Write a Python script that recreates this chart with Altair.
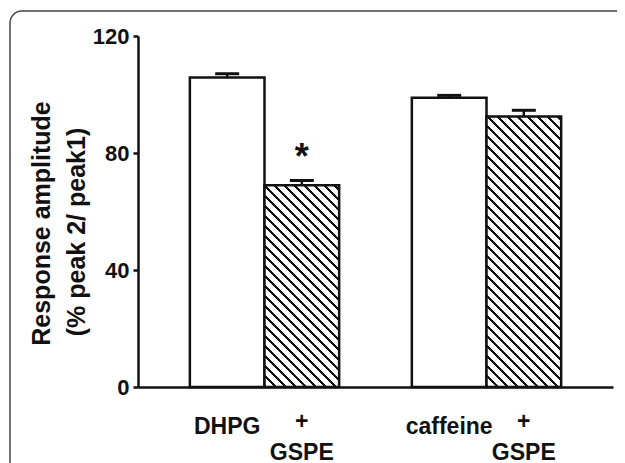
import altair as alt
import pandas as pd

# ---- data ----
conditions = ["DHPG", "DHPG", "caffeine", "caffeine"]
treatments = ["control", "GSPE", "control", "GSPE"]
means = [105.8, 69.0, 98.9, 92.5]
sems = [1.3, 1.6, 0.8, 2.1]
bar_labels = ["DHPG", "+\nGSPE", "caffeine", "+\nGSPE"]
stars = ["", "*", "", ""]
y_ticks = [0, 40, 80, 120]
y_title = ["Response amplitude", "(% peak 2/ peak1)"]

df = pd.DataFrame({
    "cond": conditions,
    "treat": treatments,
    "mean": means,
    "sem": sems,
    "label": bar_labels,
    "star": stars,
})
df["top"] = df["mean"] + df["sem"]

W, H = 475, 351
YMAX = 120
P_IN, P_OUT = 0.3275, 0.2336
INK = "#111111"
FONT = "Liberation Sans"

step = W / (2 - P_IN + 2 * P_OUT)
bar_w = step * (1 - P_IN) / 2


def hatch(value, spacing=10.0, thick=2.6):
    """Diagonal '\\' hatching as a hard-stop linear gradient (bbox units)."""
    w = bar_w
    h = value * H / YMAX
    L = w + h
    s = L / (w * w + h * h)
    stops = []
    k = 0.0
    while k < L:
        a = k / L
        b = min((k + thick) / L, 1.0)
        stops += [
            {"offset": a, "color": "white"},
            {"offset": a, "color": INK},
            {"offset": b, "color": INK},
            {"offset": b, "color": "white"},
        ]
        k += spacing
    stops.append({"offset": 1.0, "color": "white"})
    return {"gradient": "linear", "x1": 0, "y1": 1,
            "x2": w * s, "y2": 1 - h * s, "stops": stops}


x_enc = alt.X("cond:N",
              scale=alt.Scale(domain=["DHPG", "caffeine"],
                              paddingInner=P_IN, paddingOuter=P_OUT),
              axis=alt.Axis(labels=False, ticks=False, title=None,
                            domainWidth=2.5, domainColor=INK))
xo_enc = alt.XOffset("treat:N",
                     scale=alt.Scale(domain=["control", "GSPE"],
                                     paddingInner=0, paddingOuter=0))
y_scale = alt.Scale(domain=[0, YMAX], nice=False, zero=True)
y_axis = alt.Axis(values=y_ticks, title=y_title[0], grid=False,
                  labelFontSize=22, labelFontWeight="bold",
                  labelColor=INK, labelPadding=4,
                  tickSize=5, tickWidth=2.5, tickColor=INK,
                  domainWidth=2.5, domainColor=INK,
                  titleFontSize=25, titleFontWeight="bold",
                  titleColor=INK, titleAngle=270,
                  titleBaseline="alphabetic", titleAlign="center",
                  titleX=-89, titleY=187)


def Y(field):
    return alt.Y(field, scale=y_scale, axis=y_axis)


base = alt.Chart(df).encode(x=x_enc, xOffset=xo_enc)

frame = alt.Chart(alt.Data(values=[{"f": 1}])).mark_rect(
    fill="transparent", stroke="#444444", strokeWidth=1.5, cornerRadius=12
).encode(x=alt.value(-128), y=alt.value(-25),
         x2=alt.value(W + 60), y2=alt.value(H + 150))

white_bars = base.transform_filter("datum.treat == 'control'").mark_bar(
    fill="white", stroke=INK, strokeWidth=2.5
).encode(y=Y("mean:Q"))

hatched = []
for c in ["DHPG", "caffeine"]:
    v = df[(df.cond == c) & (df.treat == "GSPE")]["mean"].iloc[0]
    hatched.append(
        base.transform_filter(f"datum.treat == 'GSPE' && datum.cond == '{c}'")
        .mark_bar(fill=hatch(v), stroke=INK, strokeWidth=2.5)
        .encode(y=Y("mean:Q"))
    )

err = base.mark_rule(color=INK, strokeWidth=2.5).encode(
    y=Y("mean:Q"), y2="top:Q")
caps = base.mark_tick(color=INK, size=24, thickness=3, opacity=1).encode(
    y=Y("top:Q"))
star = base.transform_filter("datum.star != ''").mark_text(
    font=FONT, fontSize=36, fontWeight="bold", color=INK,
    baseline="alphabetic", dy=-11
).encode(y=Y("top:Q"), text="star:N")

lab1 = base.transform_filter("datum.treat == 'control'").mark_text(
    font=FONT, fontSize=23, fontWeight="bold", color=INK,
    baseline="alphabetic", align="center"
).encode(y=alt.value(H + 47), text="label:N")
lab2 = base.transform_filter("datum.treat == 'GSPE'").mark_text(
    font=FONT, fontSize=23, fontWeight="bold", color=INK,
    baseline="alphabetic", align="center", lineBreak="\n", lineHeight=31
).encode(y=alt.value(H + 42), text="label:N")

sub = alt.Chart(alt.Data(values=[{"t": y_title[1]}])).mark_text(
    font=FONT, fontSize=25, fontWeight="bold", color=INK, angle=270,
    baseline="alphabetic", align="center"
).encode(x=alt.value(-53), y=alt.value(196), text="t:N")

chart = alt.layer(
    frame, white_bars, *hatched, err, caps, star, lab1, lab2, sub
).properties(
    width=W, height=H,
    padding={"left": 130, "top": 28, "right": 4, "bottom": 76},
    autosize=alt.AutoSizeParams(type="none"),
    background="white",
).configure(font=FONT).configure_view(stroke="transparent")

chart.save("out.html", embed_options={"renderer": "svg", "actions": False})
